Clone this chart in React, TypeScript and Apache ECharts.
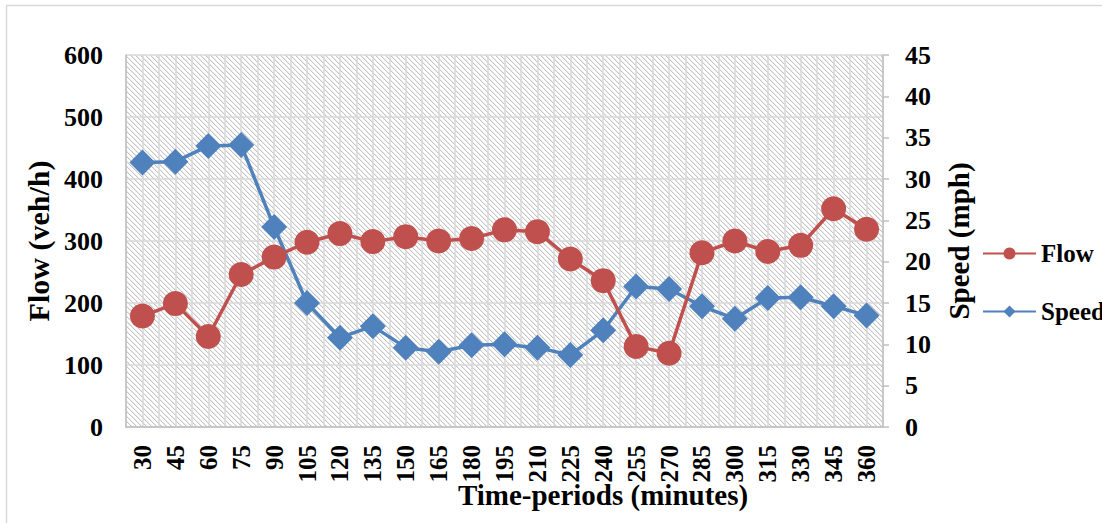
import React, { useEffect, useRef } from "react";
import * as echarts from "echarts";

const categories = ["30","45","60","75","90","105","120","135","150","165","180","195","210","225","240","255","270","285","300","315","330","345","360"];
const flowValues = [179, 199, 146, 246, 274, 298, 312, 299, 307, 300, 304, 318, 315, 271, 236, 130, 119, 281, 300, 283, 293, 352, 319];
const speedValues = [32.0, 32.1, 34.0, 34.1, 24.2, 15.0, 10.8, 12.2, 9.6, 9.1, 9.9, 10.0, 9.6, 8.7, 11.7, 17.0, 16.7, 14.6, 13.1, 15.6, 15.7, 14.6, 13.5];
const flowTicks = { min: 0, max: 600, interval: 100 };
const speedTicks = { min: 0, max: 45, interval: 5 };

const FONT = "'Liberation Serif', 'DejaVu Serif', serif";
const RED = "#c0504d";
const BLUE = "#4f81bd";

function makePattern(): string {
  const c = document.createElement("canvas");
  c.width = 5;
  c.height = 5;
  const ctx = c.getContext("2d")!;
  ctx.fillStyle = "#ffffff";
  ctx.fillRect(0, 0, 5, 5);
  for (let i = 0; i < 5; i++) {
    ctx.fillStyle = "#c4c4c4";
    ctx.fillRect(i, i, 1, 1);
    ctx.fillStyle = "#ececec";
    ctx.fillRect((i + 1) % 5, i, 1, 1);
  }
  return c.toDataURL("image/png");
}

export default function App() {
  const ref = useRef<HTMLDivElement>(null);
  useEffect(() => {
    if (!ref.current) return;
    const chart = echarts.init(ref.current, null, { renderer: "svg" });
    const pattern = makePattern();
    const labelStyle = { fontFamily: FONT, fontWeight: "bold" as const, fontSize: 26, color: "#000" };
    chart.setOption({
      animation: false,
      backgroundColor: "#ffffff",
      grid: {
        left: 126,
        right: 219,
        top: 55,
        bottom: 96,
        show: true,
        backgroundColor: { image: pattern, repeat: "repeat" },
        borderWidth: 0,
      },
      legend: {
        orient: "vertical",
        left: 982,
        top: 241,
        padding: 0,
        itemWidth: 53,
        itemHeight: 15,
        itemGap: 33,
        textStyle: { ...labelStyle, fontSize: 25, lineHeight: 25 },
        data: ["Flow", "Speed"],
      },
      xAxis: [
        {
          type: "category",
          data: categories,
          boundaryGap: true,
          axisLine: { show: true, lineStyle: { color: "#bfbfbf", width: 1.5 } },
          axisTick: { show: false },
          splitLine: { show: false },
          axisLabel: { ...labelStyle, fontSize: 25, rotate: 90, margin: 18, interval: 0 },
        },
        {
          type: "value",
          min: 0,
          max: 46,
          interval: 1,
          position: "bottom",
          show: true,
          axisLine: { show: false },
          axisTick: { show: false },
          axisLabel: { show: false },
          splitLine: { show: true, lineStyle: { color: "#d9d9d9", width: 1.5 } },
        },
      ],
      yAxis: [
        {
          type: "value",
          ...flowTicks,
          name: "Flow (veh/h)",
          nameLocation: "middle",
          nameGap: 72,
          nameTextStyle: { ...labelStyle, fontSize: 30 },
          axisLine: { show: true, lineStyle: { color: "#bfbfbf", width: 1.5 } },
          axisTick: { show: false },
          axisLabel: { ...labelStyle, margin: 23 },
          splitLine: { show: true, lineStyle: { color: "#d9d9d9", width: 1.5 } },
        },
        {
          type: "value",
          ...speedTicks,
          position: "right",
          name: "Speed (mph)",
          nameLocation: "middle",
          nameGap: 61,
          nameTextStyle: { ...labelStyle, fontSize: 29 },
          axisLine: { show: true, lineStyle: { color: "#bfbfbf", width: 1.5 } },
          axisTick: { show: true, length: 6, lineStyle: { color: "#bfbfbf", width: 1.5 } },
          axisLabel: { ...labelStyle, margin: 22 },
          splitLine: { show: false },
        },
      ],
      graphic: [
        {
          type: "rect",
          shape: { x: 6.5, y: 5.5, width: 1200, height: 700 },
          style: { fill: "none", stroke: "#d9d9d9", lineWidth: 1.5 },
          silent: true,
          z: -10,
        },
        {
          type: "text",
          x: 603,
          y: 495,
          style: {
            text: "Time-periods (minutes)",
            font: `bold 29px ${FONT}`,
            fill: "#000",
            textAlign: "center",
            textVerticalAlign: "middle",
          },
        },
      ],
      series: [
        {
          name: "Flow",
          type: "line",
          xAxisIndex: 0,
          yAxisIndex: 0,
          data: flowValues,
          symbol: "circle",
          symbolSize: 25,
          itemStyle: { color: RED },
          lineStyle: { color: RED, width: 3.5 },
          z: 3,
        },
        {
          name: "Speed",
          type: "line",
          xAxisIndex: 0,
          yAxisIndex: 1,
          data: speedValues,
          symbol: "diamond",
          symbolSize: 26,
          itemStyle: { color: BLUE },
          lineStyle: { color: BLUE, width: 3.5 },
          z: 2,
        },
      ],
    });
    return () => chart.dispose();
  }, []);
  return <div ref={ref} style={{ position: "fixed", left: 0, top: 0, width: 1102, height: 523 }} />;
}
